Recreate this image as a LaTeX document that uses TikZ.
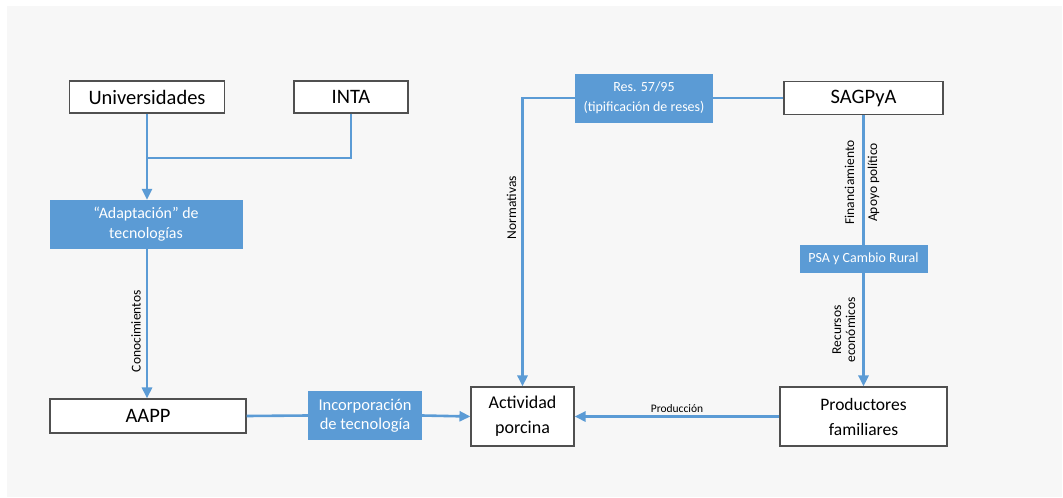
\documentclass[tikz,border=0pt]{standalone}
\usepackage{fontspec}
\setmainfont{Carlito}
\usepackage{tikz}
\usetikzlibrary{calc}
\usetikzlibrary{arrows.meta}
\usetikzlibrary{positioning}
\definecolor{officeblue}{RGB}{91, 155, 213}
\definecolor{panelgray}{RGB}{247, 247, 247}
\definecolor{boxline}{RGB}{80, 80, 80}

\begin{document}
\begin{tikzpicture}[x=1pt, y=-1pt,
        actor/.style={draw=boxline, line width=1.1pt, fill=white, font=\fontsize{20.5}{26}\selectfont,
                      inner sep=0pt, align=center},
        blue box/.style={fill=officeblue, text=white, font=\fontsize{15}{20}\selectfont,
                      inner sep=0pt, align=center},
        link/.style={officeblue, line width=2.6pt},
        arrowlink/.style={link, -{Triangle[length=11pt, width=10pt]}},
        flow/.style={text=black, font=\fontsize{13.5}{14}\selectfont, inner sep=5pt, align=center}]
            % Frame & background panel
            \useasboundingbox                                               (0, 0) rectangle (1063, 498);
            \fill[panelgray]                                                (7, 6) rectangle (1062, 497);
            % Knowledge side
            \node[actor, minimum width=155, minimum height=32] (univ)   at (147.0, 97.0) {Universidades};
            \node[actor, minimum width=114, minimum height=32] (inta)   at (351.0, 97.0) {INTA};
            \node[blue box, font=\fontsize{15.9}{20}\selectfont, minimum width=193, minimum height=49]
                 (adapt) at (146.0, 224.5) {``Adaptación'' de\\tecnologías};
            \node[actor, minimum width=196, minimum height=34] (aapp)   at (148.0, 416.0) {AAPP};
            \node[blue box, font=\fontsize{16.5}{19.5}\selectfont, minimum width=114, minimum height=49]
                 (incorp) at (365.0, 415.5) {Incorporación\\de tecnología};
            % Centre
            \node[actor, font=\fontsize{18}{25}\selectfont, minimum width=103, minimum height=59]
                 (activ) at (522.5, 416.5) {Actividad\\porcina};
            % State side
            \node[blue box, font=\fontsize{14}{20}\selectfont, minimum width=138, minimum height=49]
                 (res) at (644.0, 98.0) {Res. 57/95\\(tipificación de reses)};
            \node[actor, minimum width=159, minimum height=33] (sagpya) at (863.5, 98.0) {SAGPyA};
            \node[blue box, font=\fontsize{14}{16}\selectfont, minimum width=128, minimum height=28]
                 (psa) at (863.5, 259.0) {PSA y Cambio Rural};
            \node[actor, font=\fontsize{17.5}{25}\selectfont, minimum width=167, minimum height=59]
                 (prod) at (863.5, 416.5) {Productores\\familiares};
            % Connectors
            \coordinate (join) at (univ.south |- 0, 158);
            \draw[link]      (inta.south) |- (join);
            \draw[arrowlink] (univ.south) -- (univ.south |- adapt.north);
            \draw[arrowlink] (univ.south |- adapt.south) -- node[flow, pos=0.55, rotate=90, anchor=south] {Conocimientos}
                                                            (univ.south |- aapp.north);
            \draw[link]      (aapp.east) -- (incorp.west);
            \draw[arrowlink] (incorp.east) -- (activ.west);
            \draw[link]      (sagpya.west) -- (res.east);
            \draw[arrowlink] (res.west) -| node[flow, pos=0.69, rotate=90, anchor=south] {Normativas} (activ.north);
            \draw[link]      (sagpya.south) -- node[flow, pos=0.52, rotate=90, anchor=south, inner sep=8pt] {Financiamiento}
                                              node[flow, pos=0.52, rotate=90, anchor=north, inner sep=3pt] {Apoyo político} (psa.north);
            \draw[arrowlink] (psa.south) -- node[flow, pos=0.5, rotate=90, anchor=south, inner sep=7pt] {Recursos\\económicos} (prod.north);
            \draw[arrowlink] (prod.west) -- node[flow, font=\fontsize{11.5}{12}\selectfont, midway, above, inner sep=3pt] {Producción} (activ.east);
        \end{tikzpicture}
\end{document}
